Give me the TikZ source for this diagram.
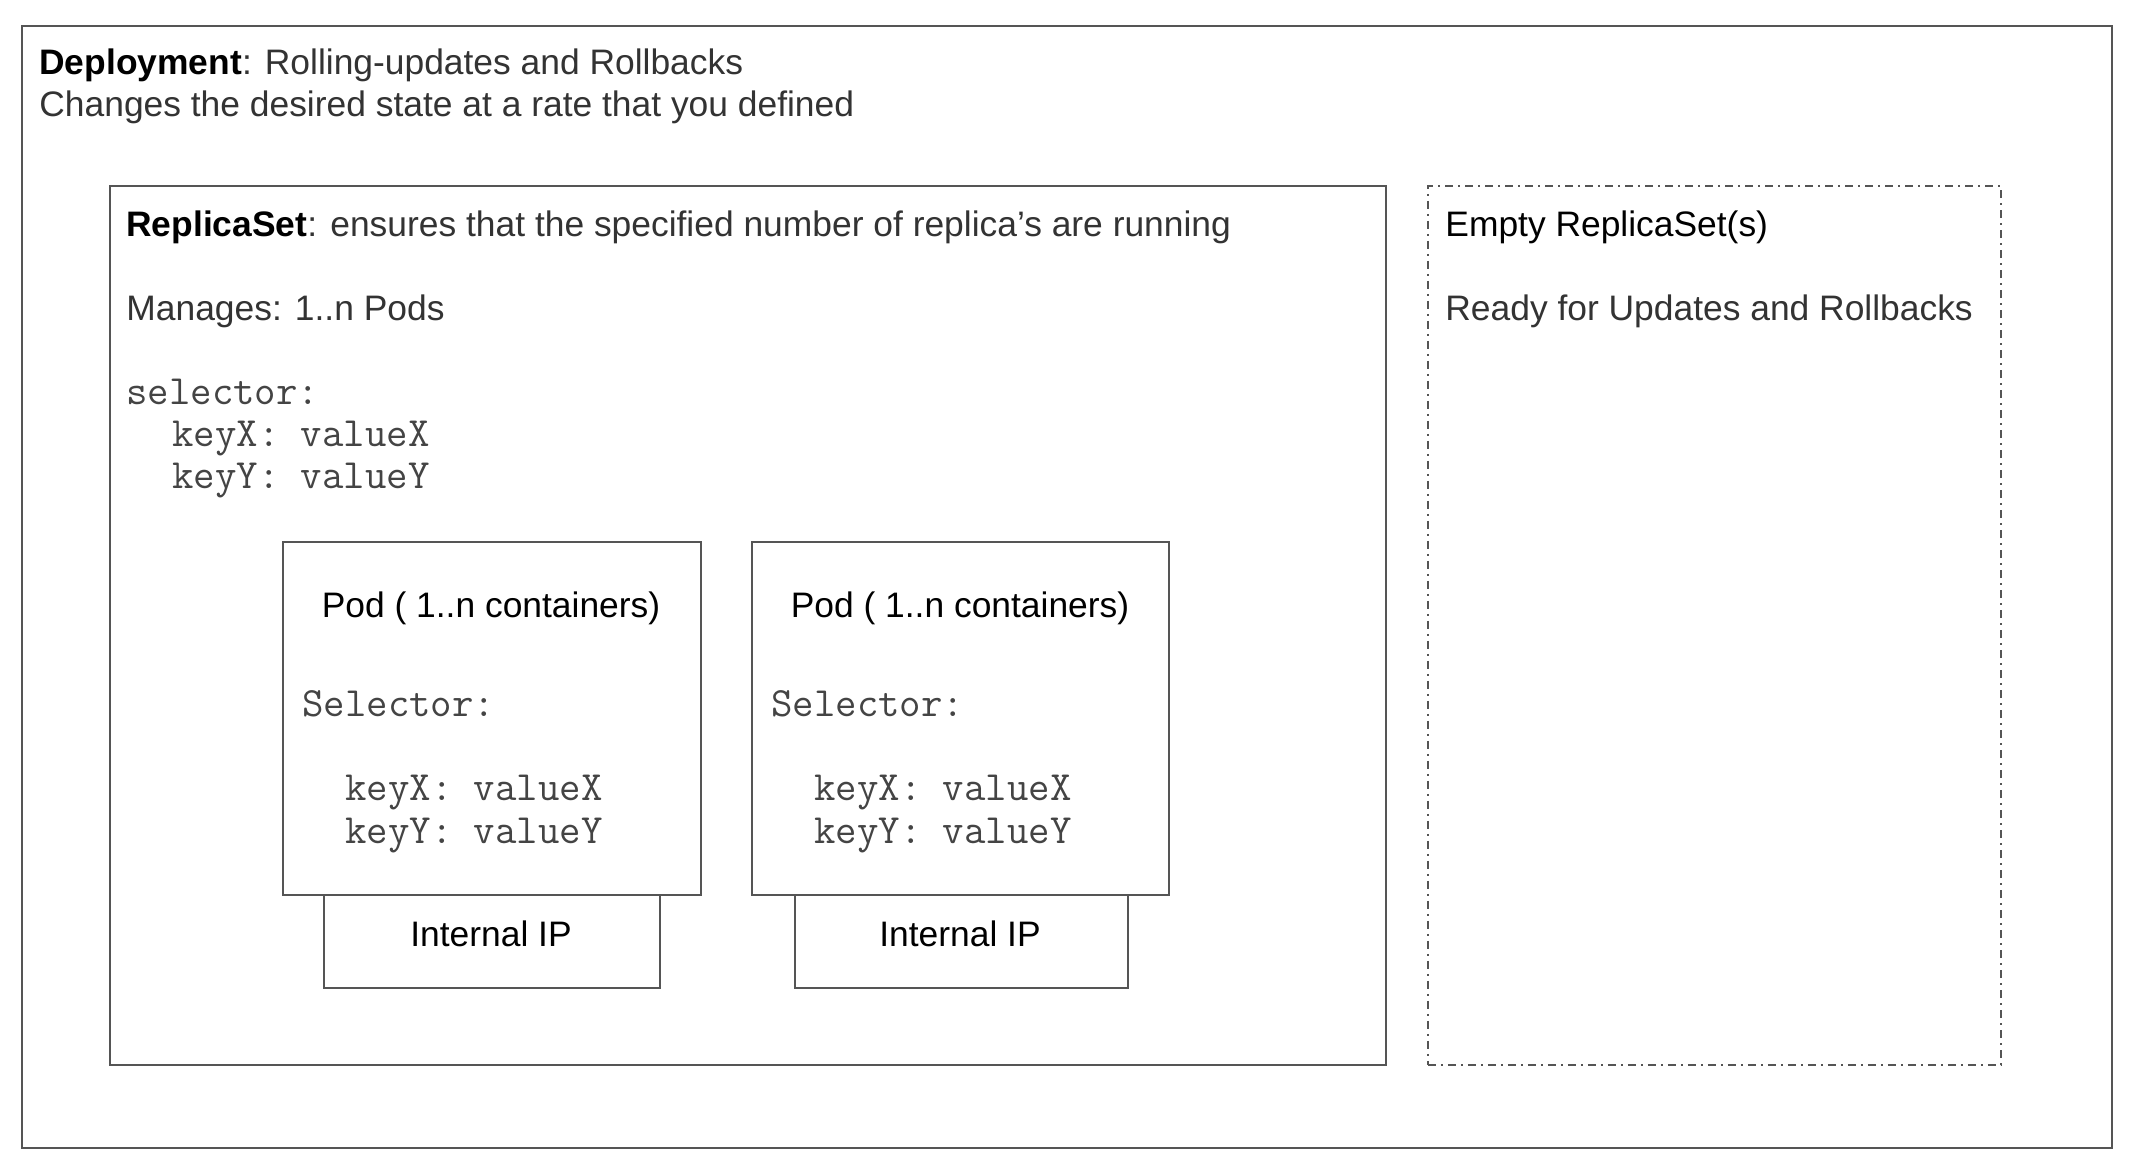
\documentclass[tikz,border=0pt]{standalone}
\usepackage{fontspec}
\setmainfont{Liberation Sans}
\definecolor{linec}{HTML}{555555}
\definecolor{txtc}{HTML}{333333}
\definecolor{monoc}{HTML}{444444}
\begin{document}
\begin{tikzpicture}[x=0.5pt,y=-0.5pt,
  box/.style={draw=linec,line width=0.9pt,anchor=north west,inner sep=0pt,fill=white},
  dashbox/.style={draw=linec,line width=0.8pt,anchor=north west,inner sep=0pt,dash pattern=on 4pt off 2.5pt on 1pt off 2.5pt},
  txt/.style={anchor=base west,inner sep=0pt,text=txtc,font=\fontsize{17.7pt}{21pt}\selectfont},
  ctxt/.style={txt,anchor=base},
  mono/.style={anchor=base west,inner sep=0pt,text=monoc,font=\ttfamily\fontsize{20.8pt}{24pt}\selectfont}]
\useasboundingbox (0,0) rectangle (2134,1172);
\fill[white] (0,0) rectangle (2134,1172);
% boxes
\node[box,minimum width=1045pt,minimum height=561pt] (deploy) at (21,25) {};
\node[box,minimum width=638pt,minimum height=439.5pt] (rs) at (109,185) {};
\node[dashbox,minimum width=286.5pt,minimum height=439.5pt] (empty) at (1427,185) {};
\node[box,minimum width=168pt,minimum height=46.5pt] (ip1) at (323,894) {};
\node[box,minimum width=166.5pt,minimum height=46.5pt] (ip2) at (794,894) {};
\node[box,minimum width=209pt,minimum height=176.5pt] (pod1) at (282,541) {};
\node[box,minimum width=208.5pt,minimum height=176.5pt] (pod2) at (751,541) {};
% deployment text
\node[txt] (dt1) at (39,75) {\textcolor{black}{\textbf{Deployment}}: Rolling-updates and Rollbacks};
\node[txt] (dt2) at (39,117) {Changes the desired state at a rate that you defined};
% replicaset text
\node[txt] (rt1) at (126,236) {\textcolor{black}{\textbf{ReplicaSet}}: ensures that the specified number of replica’s are running};
\node[txt] (rt2) at (126,320) {Manages: 1..n Pods};
\node[mono] (rsel) at (126,404) {selector:};
\node[mono] (rkx) at (172,446) {keyX: valueX};
\node[mono] (rky) at (172,488) {keyY: valueY};
% pod 1
\node[ctxt,text=black] (p1t) at (491,617) {Pod ( 1..n containers)};
\node[mono] (p1s) at (302,716) {Selector:};
\node[mono] (p1x) at (345,800) {keyX: valueX};
\node[mono] (p1y) at (345,843) {keyY: valueY};
\node[ctxt,text=black] (ip1t) at (491,946) {Internal IP};
% pod 2
\node[ctxt,text=black] (p2t) at (960,617) {Pod ( 1..n containers)};
\node[mono] (p2s) at (771,716) {Selector:};
\node[mono] (p2x) at (814,800) {keyX: valueX};
\node[mono] (p2y) at (814,843) {keyY: valueY};
\node[ctxt,text=black] (ip2t) at (960,946) {Internal IP};
% empty replicaset
\node[txt,text=black] (et1) at (1445,236) {Empty ReplicaSet(s)};
\node[txt] (et2) at (1445,320) {Ready for Updates and Rollbacks};
\end{tikzpicture}
\end{document}
